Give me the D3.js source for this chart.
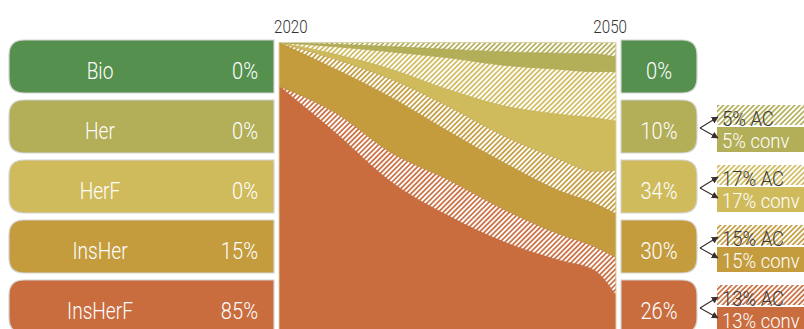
<!DOCTYPE html>
<html>
<head>
<meta charset="utf-8">
<script src="https://cdn.jsdelivr.net/npm/d3@7"></script>
<style>
  html, body { margin: 0; padding: 0; background: #fff; }
  svg { display: block; font-family: Roboto, "Liberation Sans", sans-serif; }
</style>
</head>
<body>
<svg id="chart" width="804" height="329"></svg>
<script>
// Land-use categories and their shares (%)
const categories = ["Bio", "Her", "HerF", "InsHer", "InsHerF"];
const share2020 = [0, 0, 0, 15, 85];
const share2050 = [0, 10, 34, 30, 26];
const acShare2050 = [0, 5, 17, 15, 13];
const convShare2050 = [0, 5, 17, 15, 13];
const yearLabels = ["2020", "2050"];

// Trajectories between 2020 and 2050 (% of area), split into conventional and AC parts
const years       = [2020, 2025, 2030, 2035, 2040, 2045, 2048, 2050];
const insHerFConv = [85, 69, 52, 40.5, 31.4, 25, 21.8, 13];
const insHerFAc   = [0, 6.9, 10.1, 12.4, 11.2, 9, 8.1, 13];
const insHerConv  = [15, 15, 19, 16.7, 16.1, 14.9, 14.9, 15];
const insHerAc    = [0, 3.4, 6.3, 8.6, 9.2, 10.9, 10.9, 15];
const herFConv    = [0, 1.7, 3.4, 5.7, 10.3, 15.5, 18.4, 17];
const herFAc      = [0, 2.6, 6, 10.9, 14, 15.5, 15.9, 17];
const herConv     = [0, 0.8, 1.8, 2.9, 4.6, 5.5, 6.1, 5];
const herAc       = [0, 0.6, 1.4, 2.3, 3.2, 3.7, 3.9, 5];
const bio         = [0, 0, 0, 0, 0, 0, 0, 0];

const colors = {
  Bio: "#56904e",
  Her: "#b3ae58",
  HerF: "#d0bb5c",
  InsHer: "#c49c3e",
  InsHerF: "#c96d3f"
};

const svg = d3.select("#chart");
const defs = svg.append("defs");

// Diagonal white hatch over each category colour
Object.entries(colors).forEach(([k, c]) => {
  const p = defs.append("pattern")
    .attr("id", "hatch-" + k)
    .attr("patternUnits", "userSpaceOnUse")
    .attr("width", 3.6).attr("height", 3.6)
    .attr("patternTransform", "rotate(45)");
  p.append("rect").attr("width", 3.6).attr("height", 3.6).attr("fill", c);
  p.append("rect").attr("width", 1.9).attr("height", 3.6).attr("fill", "#fff");
});

// Condensed text: glyphs squeezed horizontally around the anchor point
function label(g, x0, y0, str, size, fill, anchor, sx) {
  return g.append("text")
    .attr("transform", `translate(${x0},${y0}) scale(${sx},1)`)
    .attr("font-size", size)
    .attr("font-weight", 300)
    .attr("fill", fill)
    .attr("text-anchor", anchor)
    .text(str);
}

// Layout
const flowX0 = 279, flowX1 = 616, flowTop = 42.5;
const boxTop0 = 40, boxPitch = 60, boxH = 53;
const leftX0 = 9, leftX1 = 274;
const rightX0 = 621, rightX1 = 697;
const rad = 15;

const x = d3.scaleLinear().domain([2020, 2050]).range([flowX0, flowX1]);
const y = d3.scaleLinear().domain([0, 100]).range([333, flowTop]);
const band = d3.scaleBand().domain(categories).range([boxTop0, boxTop0 + boxPitch * categories.length]).paddingInner(0);

// Stacked table, bottom layer first
const layerDefs = [
  { key: "InsHerF_conv", cat: "InsHerF", ac: false, vals: insHerFConv },
  { key: "InsHerF_ac",   cat: "InsHerF", ac: true,  vals: insHerFAc },
  { key: "InsHer_conv",  cat: "InsHer",  ac: false, vals: insHerConv },
  { key: "InsHer_ac",    cat: "InsHer",  ac: true,  vals: insHerAc },
  { key: "HerF_conv",    cat: "HerF",    ac: false, vals: herFConv },
  { key: "HerF_ac",      cat: "HerF",    ac: true,  vals: herFAc },
  { key: "Her_conv",     cat: "Her",     ac: false, vals: herConv },
  { key: "Her_ac",       cat: "Her",     ac: true,  vals: herAc },
  { key: "Bio",          cat: "Bio",     ac: false, vals: bio }
];
const table = years.map((yr, i) => {
  const row = { year: yr };
  layerDefs.forEach(l => { row[l.key] = l.vals[i]; });
  return row;
});
const stacked = d3.stack().keys(layerDefs.map(l => l.key))(table);

defs.append("clipPath").attr("id", "flowClip")
  .append("rect").attr("x", flowX0).attr("y", flowTop)
  .attr("width", flowX1 - flowX0).attr("height", 400);

const area = d3.area()
  .x(d => x(d.data.year))
  .y0(d => y(d[0]))
  .y1(d => y(d[1]))
  .curve(d3.curveMonotoneX);

const flow = svg.append("g").attr("clip-path", "url(#flowClip)");
flow.selectAll("path.layer")
  .data(stacked)
  .join("path")
  .attr("class", "layer")
  .attr("d", area)
  .attr("fill", (s, i) => layerDefs[i].ac ? `url(#hatch-${layerDefs[i].cat})` : colors[layerDefs[i].cat])
  .attr("stroke", (s, i) => d3.color(colors[layerDefs[i].cat]).darker(0.15))
  .attr("stroke-width", 0.6);

svg.append("rect")
  .attr("x", flowX0).attr("y", flowTop)
  .attr("width", flowX1 - flowX0).attr("height", 400)
  .attr("fill", "none").attr("stroke", "#d8d4a6").attr("stroke-width", 1);

// Year headings
label(svg, x(2020) - 5, 33, yearLabels[0], 18.5, "#333", "start", 0.82);
label(svg, x(2050) + 11, 33, yearLabels[1], 18.5, "#333", "end", 0.82);

// Rounded box paths
function roundLeft(x0, y0, w, h, r) {
  return `M${x0 + w},${y0} H${x0 + r} Q${x0},${y0} ${x0},${y0 + r} V${y0 + h - r} Q${x0},${y0 + h} ${x0 + r},${y0 + h} H${x0 + w} Z`;
}
function roundRight(x0, y0, w, h, r) {
  return `M${x0},${y0} H${x0 + w - r} Q${x0 + w},${y0} ${x0 + w},${y0 + r} V${y0 + h - r} Q${x0 + w},${y0 + h} ${x0 + w - r},${y0 + h} H${x0} Z`;
}

// 2020 boxes
const left = svg.append("g");
categories.forEach((c, i) => {
  const t = band(c);
  left.append("path").attr("d", roundLeft(leftX0, t, leftX1 - leftX0, boxH, rad))
    .attr("fill", colors[c]).attr("stroke", "#d4d4d4").attr("stroke-width", 1.2);
  label(left, 100, t + 39, c, 24.5, "#fff", "middle", 0.78);
  label(left, 258, t + 39, share2020[i] + "%", 24.5, "#fff", "end", 0.82);
});

// 2050 boxes
const right = svg.append("g");
categories.forEach((c, i) => {
  const t = band(c);
  right.append("path").attr("d", roundRight(rightX0, t, rightX1 - rightX0, boxH, rad))
    .attr("fill", colors[c]).attr("stroke", "#d4d4d4").attr("stroke-width", 1.2);
  label(right, (rightX0 + rightX1) / 2, t + 39, share2050[i] + "%", 24.5, "#fff", "middle", 0.82);
});

// Split of each 2050 share into AC and conventional
defs.append("marker").attr("id", "arrowHead")
  .attr("viewBox", "0 0 10 10").attr("refX", 9).attr("refY", 5)
  .attr("markerWidth", 7).attr("markerHeight", 7).attr("markerUnits", "userSpaceOnUse")
  .attr("orient", "auto")
  .append("path").attr("d", "M0,0 L10,5 L0,10 Z").attr("fill", "#3b2e2c");

const ann = svg.append("g");
categories.forEach((c, i) => {
  if (share2050[i] === 0) return;
  const t = band(c);
  const ox = 700, oy = t + 28, tx = 718;
  ann.append("rect").attr("x", 717).attr("y", t + 5).attr("width", 100).attr("height", 20)
    .attr("fill", `url(#hatch-${c})`);
  ann.append("path").attr("d", roundRight(717, t + 27, 110, 25, 6))
    .attr("fill", colors[c]);
  ann.append("path").attr("d", `M${ox},${oy} L${tx},${t + 17}`)
    .attr("stroke", "#3b2e2c").attr("stroke-width", 1.1).attr("fill", "none")
    .attr("marker-end", "url(#arrowHead)");
  ann.append("path").attr("d", `M${ox},${oy} L${tx},${t + 38}`)
    .attr("stroke", "#3b2e2c").attr("stroke-width", 1.1).attr("fill", "none")
    .attr("marker-end", "url(#arrowHead)");
  label(ann, 722, t + 25.5, acShare2050[i] + "% AC", 21, "#3a3a3a", "start", 0.88);
  label(ann, 722, t + 48, convShare2050[i] + "% conv", 21, "#fff", "start", 0.88);
});
</script>
</body>
</html>
